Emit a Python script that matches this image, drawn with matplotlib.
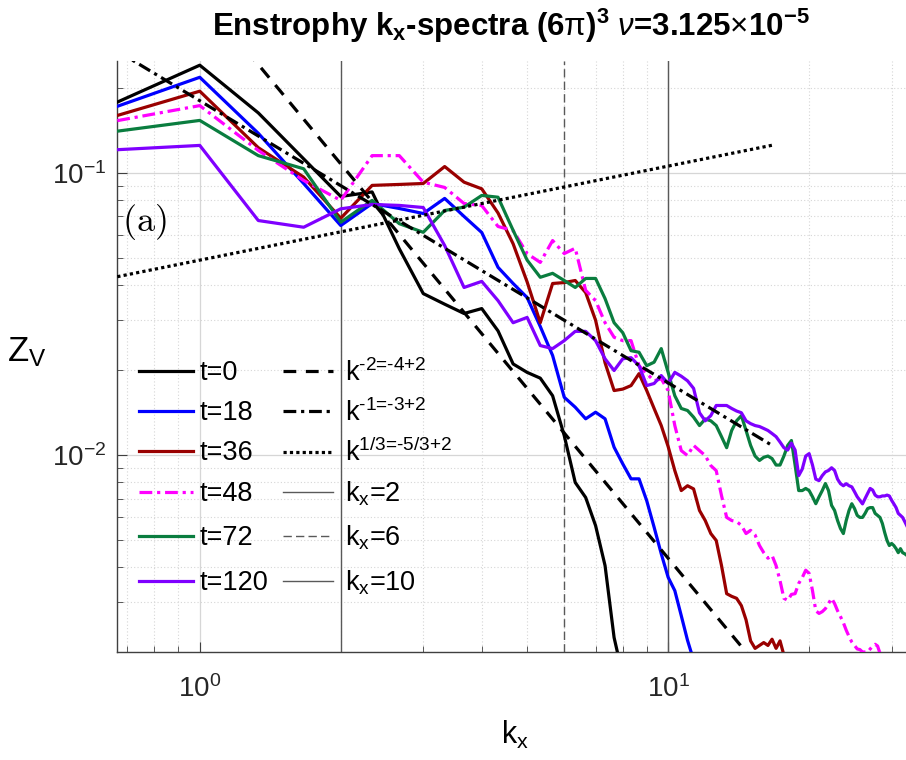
import numpy as np
import matplotlib
matplotlib.use("Agg")
import matplotlib.pyplot as plt

plt.rcParams['font.family'] = ['Liberation Sans', 'DejaVu Sans']
plt.rcParams['mathtext.fontset'] = 'custom'
plt.rcParams['mathtext.rm'] = 'Liberation Sans'
plt.rcParams['mathtext.it'] = 'Liberation Sans:italic'
plt.rcParams['mathtext.bf'] = 'Liberation Sans:bold'

# enstrophy spectra Z_V(k_x), k_x = 2/3, 1, 4/3, ... (box (6 pi)^3 -> dk = 1/3)
z_t0 = [0.178, 0.2406, 0.163, 0.112, 0.0824, 0.0855, 0.0538, 0.0373, 0.0342, 0.0317,
        0.0330, 0.0275, 0.0210, 0.0196, 0.0187, 0.0162, 0.0117, 0.00798, 0.00706, 0.00561,
        0.00405, 0.00225, 0.00165]
z_t18 = [0.172, 0.218, 0.138, 0.0916, 0.065, 0.0778, 0.0747, 0.0717, 0.0811, 0.070,
         0.0614, 0.0462, 0.0405, 0.0361, 0.0285, 0.0225, 0.0160, 0.01475, 0.01342, 0.01416,
         0.01342, 0.01064, 0.00929, 0.00822, 0.00822, 0.00688, 0.00554, 0.00446, 0.00368, 0.0033,
         0.00269, 0.0022, 0.00187]
z_t36 = [0.1596, 0.1946, 0.1227, 0.0965, 0.069, 0.0902, 0.0909, 0.0916, 0.1052, 0.0926,
         0.0877, 0.072, 0.056, 0.041, 0.0294, 0.0405, 0.0408, 0.0415, 0.0376, 0.030,
         0.0212, 0.0169, 0.0171, 0.0176, 0.0194, 0.0169, 0.0146, 0.0127, 0.0107, 0.00879,
         0.00747, 0.00777, 0.00757, 0.00635, 0.00585, 0.00526, 0.00497, 0.00405, 0.00322, 0.00315,
         0.0031, 0.00292, 0.0026, 0.00219, 0.00206, 0.00211, 0.00216, 0.00211, 0.00222, 0.00206,
         0.00219, 0.00195]
z_t48 = [0.153, 0.173, 0.12, 0.0939, 0.0798, 0.115, 0.115, 0.0926, 0.0887, 0.0778,
         0.0765, 0.0645, 0.0624, 0.0517, 0.0481, 0.0575, 0.0517, 0.054, 0.0383, 0.0352,
         0.0294, 0.0261, 0.0254, 0.0254, 0.0207, 0.0194, 0.0183, 0.0186, 0.0169, 0.0127,
         0.01035, 0.00994, 0.0108, 0.01035, 0.00994, 0.00916, 0.00879, 0.00717, 0.006, 0.00585,
         0.0058, 0.00562, 0.00526, 0.0054, 0.0052, 0.00477, 0.0045, 0.0043, 0.0044, 0.00405,
         0.00358, 0.0031, 0.00305, 0.0032, 0.00322, 0.0035, 0.00367, 0.0039, 0.0038, 0.0033,
         0.0028, 0.00274, 0.00278, 0.00285, 0.00297, 0.0031, 0.00297, 0.0028, 0.00267, 0.00254,
         0.00239, 0.00227, 0.00217, 0.00211, 0.00205, 0.00204, 0.0020, 0.0020, 0.0020, 0.00205,
         0.0021, 0.00213, 0.0021, 0.00198]
z_t72 = [0.1404, 0.1533, 0.115, 0.1033, 0.0668, 0.0798, 0.066, 0.0615, 0.0735, 0.0755,
         0.0831, 0.0819, 0.0625, 0.0490, 0.0426, 0.044, 0.0415, 0.0392, 0.0422, 0.0422,
         0.0358, 0.0294, 0.0271, 0.0234, 0.0231, 0.0207, 0.0213, 0.0238, 0.0196, 0.0162,
         0.0146, 0.01436, 0.0136, 0.0127, 0.0134, 0.0132, 0.0127, 0.0116, 0.0106, 0.0122,
         0.0132, 0.01377, 0.0122, 0.0108, 0.0099, 0.00955, 0.0098, 0.0099, 0.0097, 0.0092,
         0.0092, 0.0099, 0.0108, 0.01124, 0.0092, 0.00747, 0.00747, 0.0076, 0.00747, 0.0071,
         0.00671, 0.0071, 0.00747, 0.00791, 0.00747, 0.00662, 0.00635, 0.00585, 0.00548, 0.00526,
         0.00585, 0.00635, 0.00671, 0.00645, 0.0061, 0.0060, 0.0060, 0.0062, 0.00645, 0.0065,
         0.0065, 0.0062, 0.0061, 0.0060, 0.00571, 0.0053, 0.00497, 0.00477, 0.00485, 0.00477,
         0.00465, 0.0045, 0.00465, 0.0045, 0.00446, 0.0044]
z_t120 = [0.1207, 0.125, 0.0677, 0.0641, 0.0745, 0.0772, 0.0766, 0.0753, 0.0552, 0.0392,
          0.0412, 0.0352, 0.0294, 0.0307, 0.0244, 0.0238, 0.0254, 0.0274, 0.0274, 0.0254,
          0.0219, 0.0199, 0.0219, 0.0221, 0.0207, 0.0176, 0.0179, 0.0191, 0.0179, 0.0196,
          0.019, 0.0183, 0.0172, 0.0141, 0.0132, 0.01377, 0.01496, 0.01496, 0.01496, 0.0146,
          0.0143, 0.0141, 0.0132, 0.0129, 0.0127, 0.0126, 0.0124, 0.0122, 0.0119, 0.0116,
          0.0111, 0.0106, 0.0104, 0.0110, 0.0104, 0.00844, 0.0089, 0.0099, 0.0101, 0.0092,
          0.0082, 0.0081, 0.00844, 0.0087, 0.0088, 0.0090, 0.0088, 0.0082, 0.0079, 0.00777,
          0.0079, 0.00777, 0.0077, 0.0074, 0.0071, 0.0069, 0.0067, 0.0070, 0.0073, 0.0076,
          0.0075, 0.0072, 0.0071, 0.0071, 0.00715, 0.00715, 0.0072, 0.00715, 0.0069, 0.0067,
          0.0065, 0.0062, 0.0061, 0.0060, 0.0058, 0.0056]

labels_t = ['t=0', 't=18', 't=36', 't=48', 't=72', 't=120']
colors_t = ['#000000', '#0000ff', '#990000', '#ff00ff', '#0a7d3f', '#7f00ff']
styles_t = ['-', '-', '-', (0, (4, 1.5, 1, 1.5)), '-', '-']
series = [z_t0, z_t18, z_t36, z_t48, z_t72, z_t120]

# power-law guides Z ~ C k^p
ref_k = np.array([2/3, 50/3])
ref_p = [-2, -1, 1/3]
ref_c = [0.43, 0.18, 0.049]
ref_labels = ['k$^{\\text{-2=-4+2}}$', 'k$^{\\text{-1=-3+2}}$', 'k$^{\\text{1/3=-5/3+2}}$']
ref_styles = [(0, (4, 3)), (0, (4, 1.5, 1, 1.5)), (0, (1, 1))]

kx_marks = [2, 6, 10]
kx_labels = ['k$_\\mathrm{x}$=2', 'k$_\\mathrm{x}$=6', 'k$_\\mathrm{x}$=10']
kx_styles = ['-', (0, (6, 3)), '-']

fig = plt.figure(figsize=(9.06, 7.6), dpi=100)
L, R, B, T = 117.3, 906, 652, 60.5
ax = fig.add_axes([L / 906, 1 - B / 760, (R - L) / 906, (B - T) / 760])
ax.set_xscale('log')
ax.set_yscale('log')

t_handles = []
for z, lab, col, ls in zip(series, labels_t, colors_t, styles_t):
    k = np.arange(2, 2 + len(z)) / 3
    h, = ax.plot(k, z, color=col, ls=ls, lw=2.3, label=lab, zorder=3)
    t_handles.append(h)

r_handles = []
for p, c, lab, ls in zip(ref_p, ref_c, ref_labels, ref_styles):
    h, = ax.plot(ref_k, c * ref_k ** p, color='k', ls=ls, lw=2.3, label=lab, zorder=4)
    r_handles.append(h)
for kv, lab, ls in zip(kx_marks, kx_labels, kx_styles):
    h = ax.axvline(kv, color='0.35', ls=ls, lw=1.0, label=lab, zorder=2)
    r_handles.append(h)

ax.set_xlim(2/3, 32.2)
ax.set_ylim(0.002, 0.25)

ax.grid(True, which='major', color='#d6d6d6', lw=0.9, ls='-')
ax.grid(True, which='minor', color='#d6d6d6', lw=0.8, ls=(0, (1, 2)))
ax.set_axisbelow(True)
for s in ['top', 'right']:
    ax.spines[s].set_visible(False)
for s in ['left', 'bottom']:
    ax.spines[s].set_color('0.25')
    ax.spines[s].set_linewidth(1.0)
ax.tick_params(which='both', direction='in', top=False, right=False,
               colors='0.25', labelcolor='0.15', labelsize=20)
ax.tick_params(which='major', length=7)
ax.tick_params(which='minor', length=4)
ax.tick_params(axis='x', which='major', pad=17)
ax.tick_params(axis='y', which='major', pad=8)

# legend laid out row by row (two columns sharing row heights, as in the original)
row_y = [373, 413, 453, 494, 538, 583]
fs_leg = 19.5
legs = []
for i, y in enumerate(row_y):
    yf = (B - y) / (B - T)
    legs.append(ax.legend(handles=[t_handles[i]], loc='center left',
                          bbox_to_anchor=((139 - L) / (R - L), yf), frameon=False,
                          fontsize=fs_leg, handlelength=2.0, handletextpad=0.22,
                          borderpad=0, borderaxespad=0))
    legs.append(ax.legend(handles=[r_handles[i]], loc='center left',
                          bbox_to_anchor=((283 - L) / (R - L), yf), frameon=False,
                          fontsize=fs_leg, handlelength=1.85, handletextpad=0.44,
                          borderpad=0, borderaxespad=0))
for lg in legs[:-1]:
    ax.add_artist(lg)

ax.text(0.006, 0.727, '$\\mathrm{(a)}$', transform=ax.transAxes, fontsize=26,
        math_fontfamily='cm', ha='left', va='center')

ax.set_ylabel('Z$_\\mathrm{V}$', fontsize=25, rotation=0, ha='center', va='center')
ax.yaxis.set_label_coords((27 - L) / (R - L), (B - 352) / (B - T))
ax.set_xlabel('k$_\\mathrm{x}$', fontsize=22, ha='center', va='center')
ax.xaxis.set_label_coords((515 - L) / (R - L), (B - 735) / (B - T))

fig.text(511 / 906, 1 - 36 / 760,
         'Enstrophy k$_\\mathbf{x}$-spectra (6$\\mathrm{\\pi}$)$^\\mathbf{3}$ $\\nu$=3.125$\\times$10$^\\mathbf{-5}$',
         ha='center', va='baseline', fontsize=22.5, fontweight='bold')

fig.savefig('out.png', dpi=100)
